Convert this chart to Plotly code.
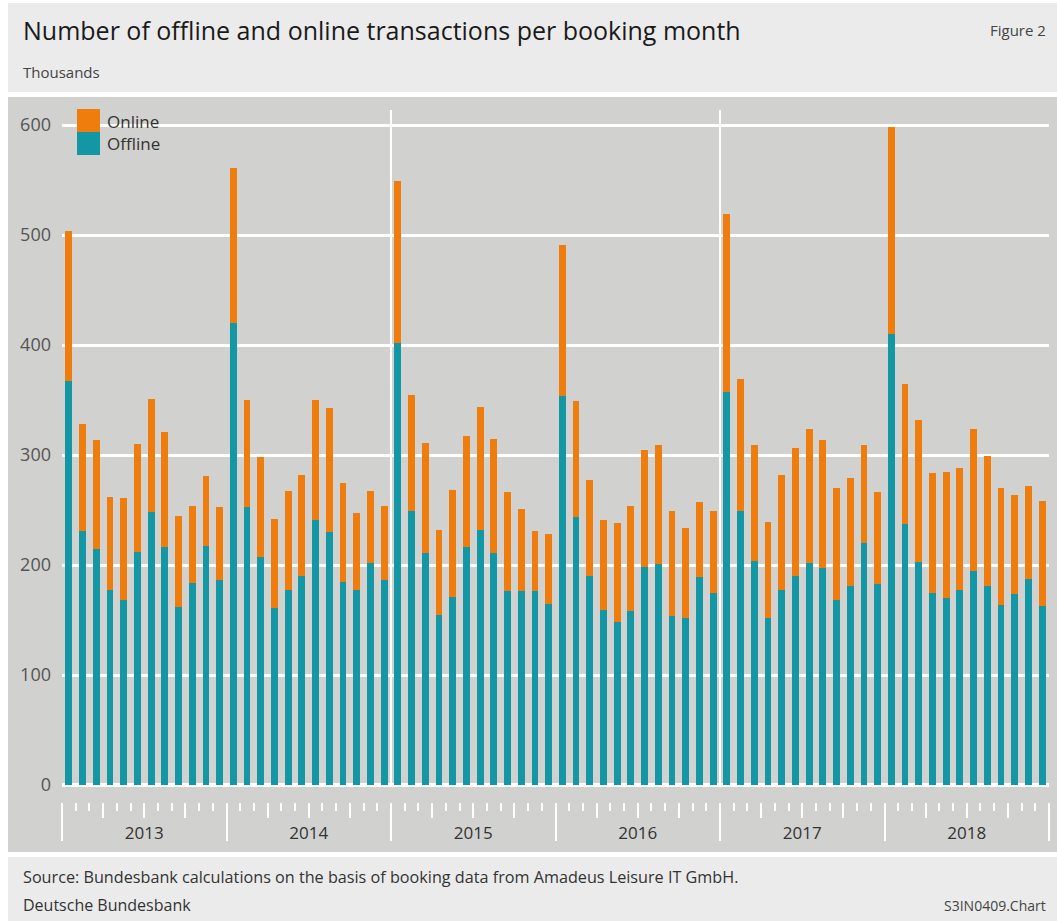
import plotly.graph_objects as go

# ---------------- data (thousands) ----------------
years = [2013, 2014, 2015, 2016, 2017, 2018]
months_per_year = 12

offline = [367, 231, 215, 177, 168, 212, 248, 216, 162, 184, 217, 186,
           420, 253, 207, 161, 177, 190, 241, 230, 185, 177, 202, 186,
           402, 249, 211, 155, 171, 216, 232, 211, 176, 176, 176, 165,
           354, 244, 190, 159, 148, 158, 198, 201, 154, 152, 189, 175,
           357, 249, 204, 152, 177, 190, 202, 197, 168, 181, 220, 183,
           410, 237, 203, 175, 170, 177, 195, 181, 164, 174, 187, 163]

online = [137, 97, 99, 85, 93, 98, 103, 105, 83, 70, 64, 67,
          141, 97, 91, 81, 90, 92, 109, 113, 90, 70, 65, 68,
          147, 106, 100, 77, 97, 101, 112, 104, 90, 75, 55, 63,
          137, 105, 87, 82, 90, 96, 107, 108, 95, 82, 68, 74,
          162, 120, 105, 87, 105, 116, 122, 117, 102, 98, 89, 83,
          188, 128, 129, 109, 115, 111, 129, 118, 106, 90, 85, 95]

y_ticks = [0, 100, 200, 300, 400, 500, 600]
break_years = [2015, 2017]   # white vertical separators before these years

# ---------------- layout constants ----------------
W, H = 1057, 921
L, R, T, B = 62, 8, 97, 69
PW, PH = W - L - R, H - T - B

ORANGE = "#EE7D0E"
TEAL = "#1497A5"
PANEL = "#D1D1CF"
HEAD = "#EBEBEB"
FONT = "Open Sans"


def px(x):
    return (x - L) / PW


def py(y):
    return (H - B - y) / PH


n = len(offline)
x = list(range(n))
y_zero_px = 785
y_dom0 = py(y_zero_px)
y_max = (y_zero_px - T) / 1.1

fig = go.Figure()
fig.add_trace(go.Bar(x=x, y=offline, name="Offline", marker=dict(color=TEAL, line=dict(width=0)),
                     width=0.5, showlegend=False))
fig.add_trace(go.Bar(x=x, y=online, name="Online", marker=dict(color=ORANGE, line=dict(width=0)),
                     width=0.5, showlegend=False))

# dummy traces so the tick overlay axes are drawn
for ax in ["x2", "x3", "x4"]:
    fig.add_trace(go.Scatter(x=[None], y=[None], xaxis=ax, yaxis="y", showlegend=False,
                             hoverinfo="skip", mode="markers"))

bounds = [k - 0.5 for k in range(n + 1)]
year_b = [b for k, b in enumerate(bounds) if k % 12 == 0]
quarter_b = [b for k, b in enumerate(bounds) if k % 3 == 0 and k % 12 != 0]
month_b = [b for k, b in enumerate(bounds) if k % 3 != 0]
year_centers = [i * months_per_year + (months_per_year - 1) / 2 for i in range(len(years))]

tick_pos = py(801.5)
common = dict(overlaying="x", matches="x", anchor="free", position=tick_pos, side="bottom",
              ticks="outside", tickcolor="white", showticklabels=False, showgrid=False,
              showline=False, zeroline=False, tickmode="array")

fig.update_layout(
    width=W, height=H,
    margin=dict(l=L, r=R, t=T, b=B, pad=0),
    paper_bgcolor="white", plot_bgcolor="rgba(0,0,0,0)",
    barmode="stack", bargap=0.5,
    font=dict(family=FONT, color="#333333"),
    xaxis=dict(range=[-0.5, n - 0.5], tickmode="array", tickvals=year_centers,
               ticktext=[str(yv) for yv in years], ticks="", showgrid=False, zeroline=False,
               showline=False, tickfont=dict(size=17, color="#333333"), ticklabelstandoff=36),
    xaxis2=dict(tickvals=month_b, ticklen=8, tickwidth=2, **common),
    xaxis3=dict(tickvals=quarter_b, ticklen=15, tickwidth=2, **common),
    xaxis4=dict(tickvals=year_b, ticklen=38, tickwidth=2, **common),
    yaxis=dict(range=[0, y_max], domain=[y_dom0, 1], tickmode="array", tickvals=y_ticks,
               showgrid=True, gridcolor="white", gridwidth=2.5, zeroline=True,
               zerolinecolor="white", zerolinewidth=3.5, showline=False, ticks="",
               tickfont=dict(size=18, color="#555555"), ticklabelstandoff=10),
)

shapes = []
# header / panel / footer backgrounds
shapes.append(dict(type="rect", xref="paper", yref="paper", x0=px(8), x1=px(W), y0=py(3), y1=py(92),
                   fillcolor=HEAD, line=dict(width=0), layer="below"))
shapes.append(dict(type="rect", xref="paper", yref="paper", x0=px(8), x1=px(W), y0=py(97), y1=py(852),
                   fillcolor=PANEL, line=dict(width=0), layer="below"))
shapes.append(dict(type="rect", xref="paper", yref="paper", x0=px(8), x1=px(W), y0=py(857), y1=py(H),
                   fillcolor=HEAD, line=dict(width=0), layer="below"))
# vertical year separators
for yb in break_years:
    xb = years.index(yb) * months_per_year - 0.5
    shapes.append(dict(type="line", xref="x", yref="paper", x0=xb, x1=xb, y0=y_dom0, y1=py(110),
                       line=dict(color="white", width=2), layer="between"))
# legend background and swatches
shapes.append(dict(type="rect", xref="paper", yref="paper", x0=px(66), x1=px(176), y0=py(104), y1=py(160),
                   fillcolor=PANEL, line=dict(width=0), layer="between"))
shapes.append(dict(type="rect", xref="paper", yref="paper", x0=px(77), x1=px(100), y0=py(109), y1=py(132),
                   fillcolor=ORANGE, line=dict(width=0), layer="above"))
shapes.append(dict(type="rect", xref="paper", yref="paper", x0=px(77), x1=px(100), y0=py(132), y1=py(155),
                   fillcolor=TEAL, line=dict(width=0), layer="above"))
fig.update_layout(shapes=shapes)


def txt(text, x_px, y_px, size, color="#333333", anchor="left"):
    fig.add_annotation(text=text, xref="paper", yref="paper", x=px(x_px), y=py(y_px),
                       xanchor=anchor, yanchor="middle", showarrow=False,
                       font=dict(size=size, color=color, family=FONT))


txt("Number of offline and online transactions per booking month", 21, 30, 25, "#1a1a1a")
txt("Figure 2", 1048, 30, 15, "#444444", "right")
txt("Thousands", 21, 72, 15, "#444444")
txt("Online", 105, 121, 17, "#333333")
txt("Offline", 105, 143, 17, "#333333")
txt("Source: Bundesbank calculations on the basis of booking data from Amadeus Leisure IT GmbH.",
    21, 877, 16.2, "#333333")
txt("Deutsche Bundesbank", 21, 905, 16, "#333333")
txt("S3IN0409.Chart", 1048, 905, 14, "#444444", "right")

fig.write_html("out.html", config={"displayModeBar": False},
               post_script="document.body.style.margin='0';"
               "document.documentElement.style.overflow='hidden';")
